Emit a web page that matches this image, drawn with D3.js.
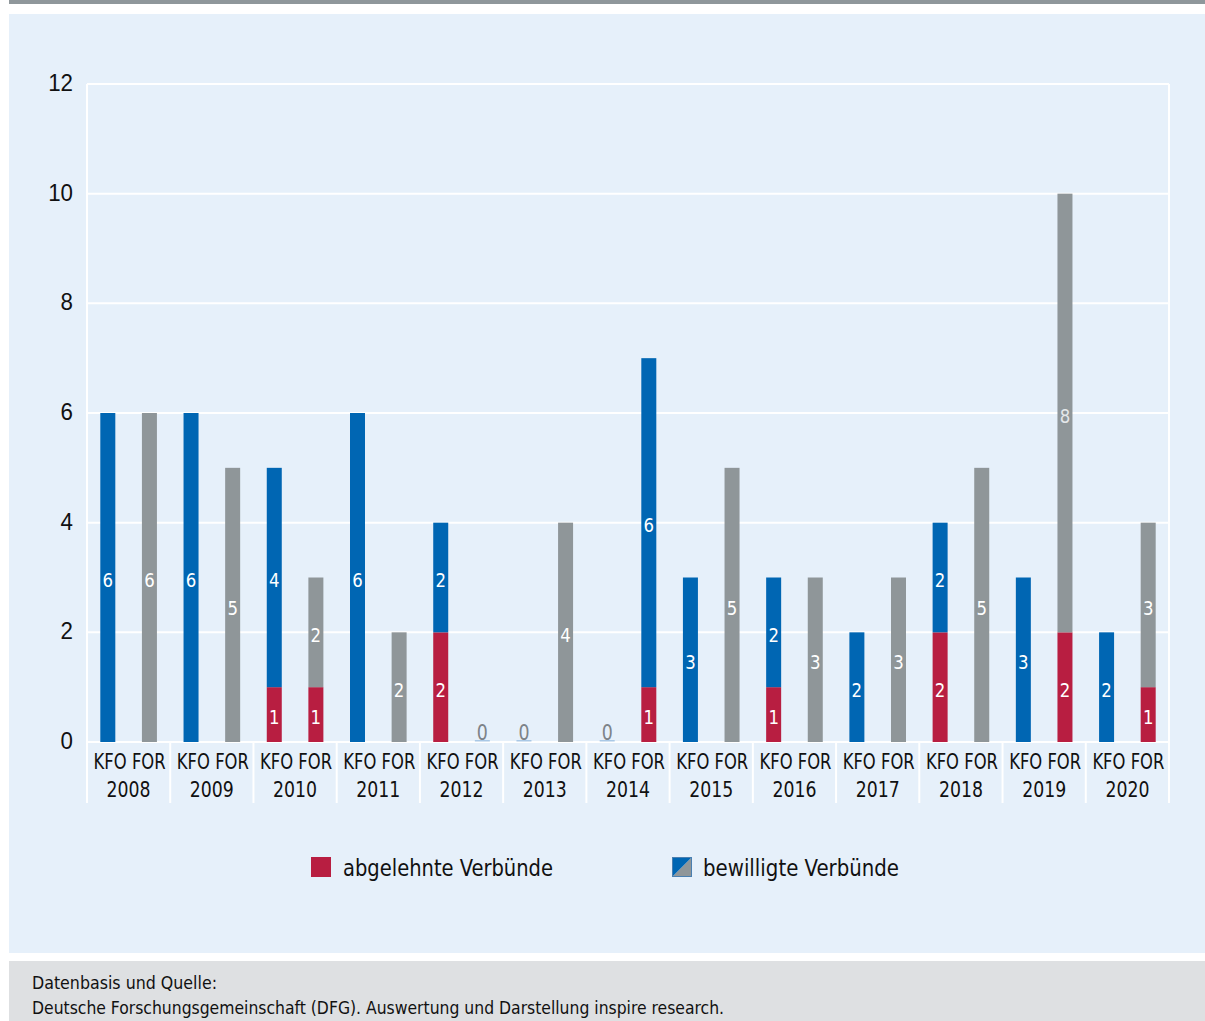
<!DOCTYPE html>
<html><head><meta charset="utf-8">
<script src="https://cdn.jsdelivr.net/npm/d3@7"></script>
<style>body{margin:0;background:#fff;}svg{display:block;font-family:"DejaVu Sans Condensed","Liberation Sans Narrow",sans-serif;}</style>
</head><body><svg id="c" width="1205" height="1021"></svg>
<script>
const years = ["2008","2009","2010","2011","2012","2013","2014","2015","2016","2017","2018","2019","2020"];
const types = ["KFO","FOR"];
const kfoRejected = [0,0,1,0,2,0,0,0,1,0,2,0,0];
const kfoApproved = [6,6,4,6,2,0,0,3,2,2,2,3,2];
const forRejected = [0,0,1,0,0,0,1,0,0,0,0,2,1];
const forApproved = [6,5,2,2,0,4,6,5,3,3,5,8,3];
const yTicks = [0,2,4,6,8,10,12];
const legendLabels = ["abgelehnte Verbünde","bewilligte Verbünde"];
const sourceLines = ["Datenbasis und Quelle:","Deutsche Forschungsgemeinschaft (DFG). Auswertung und Darstellung inspire research."];

const C = {red:"#b81e41", blue:"#0066b3", gray:"#8f9699", bg:"#e6f0fa", foot:"#dee0e2", top:"#8f979b", ink:"#111"};
const svg = d3.select("#c");
function squeeze(sel, f){
  sel.each(function(){
    const w = this.getComputedTextLength();
    d3.select(this).attr("textLength", (w*f).toFixed(2)).attr("lengthAdjust","spacingAndGlyphs");
  });
  return sel;
}
svg.append("rect").attr("x",9).attr("y",0).attr("width",1196).attr("height",4).attr("fill",C.top);
svg.append("rect").attr("x",9).attr("y",14).attr("width",1196).attr("height",939).attr("fill",C.bg);
svg.append("rect").attr("x",9).attr("y",961).attr("width",1196).attr("height",60).attr("fill",C.foot);

const L=87,R=1169,T=84,B=742;
const x = d3.scaleBand().domain(years).range([L,R]);
const xs = d3.scalePoint().domain(types).range([0,x.bandwidth()]).padding(0.5);
const y = d3.scaleLinear().domain([0,12]).range([B,T]);
const bw = 15;

svg.append("g").selectAll("line").data(yTicks).join("line")
  .attr("x1",L).attr("x2",R).attr("y1",d=>y(d)).attr("y2",d=>y(d))
  .attr("stroke","#fff").attr("stroke-width",2);
const seps = years.map(d=>x(d)).concat([R]);
svg.append("g").selectAll("line").data(seps).join("line")
  .attr("x1",d=>d).attr("x2",d=>d)
  .attr("y1",(d,i)=> (i===0||i===seps.length-1)?T:B).attr("y2",803)
  .attr("stroke","#fff").attr("stroke-width",2);

const yAxis = d3.axisLeft(y).tickValues(yTicks).tickSize(0).tickPadding(0);
const ga = svg.append("g").attr("transform",`translate(${L-14},-2)`).call(yAxis);
ga.select(".domain").remove();
const tickTexts = ga.selectAll("text").attr("font-size",24).attr("fill",C.ink).attr("font-family","inherit").attr("dy","0.36em");
squeeze(tickTexts, 0.93);

const rows = [];
years.forEach((yr,i)=>{
  rows.push({year:yr,type:"KFO",rej:kfoRejected[i],app:kfoApproved[i]});
  rows.push({year:yr,type:"FOR",rej:forRejected[i],app:forApproved[i]});
});
function appColor(d){
  if(d.type==="KFO") return C.blue;
  if(d.year==="2014") return C.blue; // as drawn in the original
  return C.gray;
}
const g = svg.append("g");
function barLabel(cx, cy, txt, fill, size){
  const t = g.append("text").attr("x",cx).attr("y",cy).attr("dy","0.36em").attr("text-anchor","middle")
    .attr("font-size",size||20).attr("fill",fill).text(txt);
  squeeze(t, 0.92);
}
rows.forEach(d=>{
  const cx = x(d.year)+xs(d.type);
  const x0 = cx-bw/2;
  if(d.rej>0){
    g.append("rect").attr("x",x0).attr("width",bw).attr("y",y(d.rej)).attr("height",y(0)-y(d.rej)).attr("fill",C.red);
  }
  if(d.app>0){
    g.append("rect").attr("x",x0).attr("width",bw).attr("y",y(d.rej+d.app)).attr("height",y(d.rej)-y(d.rej+d.app)).attr("fill",appColor(d));
  }
  if(d.rej>0) barLabel(cx, y(d.rej/2)+2.5, d.rej, "#fff");
  if(d.app>0) barLabel(cx, y(d.rej+d.app/2)+2.5, d.app, d.app===8?"#e4e7ea":"#fff");
  if(d.rej+d.app===0){
    g.append("rect").attr("x",x0).attr("width",bw).attr("y",y(0)-2).attr("height",1.5).attr("fill","#a9c8e6");
    barLabel(cx, y(0)-10, 0, "#7d8388", 21);
  }
});

const cat = svg.append("g");
years.forEach(yr=>{
  const cx = x(yr)+x.bandwidth()/2;
  const t1 = cat.append("text").attr("x",cx+1).attr("y",769).attr("text-anchor","middle")
    .attr("font-size",22).attr("fill",C.ink).attr("xml:space","preserve").text(types.join(" "));
  t1.attr("textLength",72).attr("lengthAdjust","spacingAndGlyphs");
  const t2 = cat.append("text").attr("x",cx).attr("y",797).attr("text-anchor","middle")
    .attr("font-size",22).attr("fill",C.ink).text(yr);
  t2.attr("textLength",44).attr("lengthAdjust","spacingAndGlyphs");
});

const lg = svg.append("g");
lg.append("rect").attr("x",311).attr("y",857).attr("width",20).attr("height",20).attr("fill",C.red);
lg.append("text").attr("x",343).attr("y",876).attr("font-size",23).attr("fill",C.ink).text(legendLabels[0])
  .attr("textLength",210).attr("lengthAdjust","spacingAndGlyphs");
lg.append("path").attr("d","M672,877L692,857L692,877Z").attr("fill",C.gray);
lg.append("path").attr("d","M672,857L692,857L672,877Z").attr("fill",C.blue);
lg.append("rect").attr("x",672.5).attr("y",857.5).attr("width",19).attr("height",19).attr("fill","none").attr("stroke","#4a7fb0").attr("stroke-width",1);
lg.append("text").attr("x",703).attr("y",876).attr("font-size",23).attr("fill",C.ink).text(legendLabels[1])
  .attr("textLength",196).attr("lengthAdjust","spacingAndGlyphs");

svg.append("text").attr("x",32).attr("y",989).attr("font-size",17).attr("fill",C.ink).text(sourceLines[0])
  .attr("textLength",185).attr("lengthAdjust","spacingAndGlyphs");
svg.append("text").attr("x",32).attr("y",1014).attr("font-size",17).attr("fill",C.ink).text(sourceLines[1])
  .attr("textLength",692).attr("lengthAdjust","spacingAndGlyphs");
</script></body></html>
